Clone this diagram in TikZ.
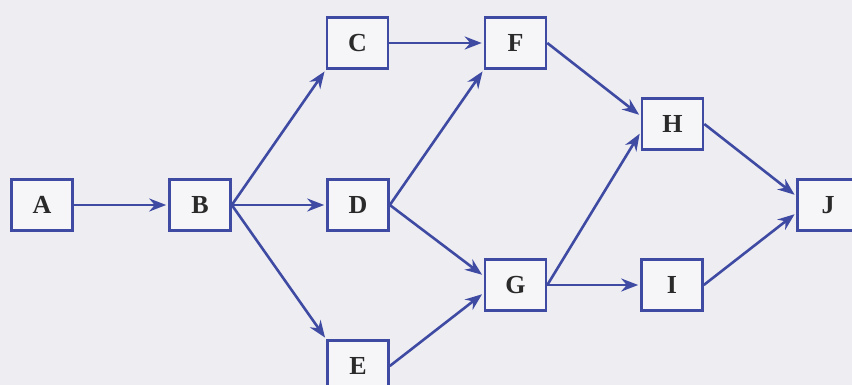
\documentclass[tikz,border=0pt]{standalone}
\usepackage{fontspec}
\setmainfont{Liberation Serif}
\usetikzlibrary{arrows.meta}
\definecolor{bg}{HTML}{EEEEF2}
\definecolor{boxfill}{HTML}{F6F6F9}
\definecolor{edgeblue}{HTML}{3F4AA3}
\definecolor{labelgray}{HTML}{2A2A2A}
\tikzset{
  actbox/.style={draw=edgeblue, fill=boxfill, line width=2.6pt, inner sep=0pt,
    minimum width=61pt, minimum height=51pt,
    font=\bfseries\fontsize{26}{26}\selectfont, text=labelgray},
  flow/.style={draw=edgeblue, line width=2.6pt,
    -{Stealth[length=17pt,width=13pt]}, shorten >=2pt}
}
\begin{document}
\begin{tikzpicture}[x=1pt,y=-1pt]
\useasboundingbox (0,0) rectangle (852,385);
\clip (0,0) rectangle (852,385);
\fill[bg] (0,0) rectangle (852,385);
\node[actbox] (A) at (42,205) {A};
\node[actbox] (B) at (200,205) {B};
\node[actbox] (C) at (357.5,43) {C};
\node[actbox] (D) at (358,205) {D};
\node[actbox] (E) at (358,366) {E};
\node[actbox] (F) at (515.5,43) {F};
\node[actbox] (G) at (515.5,285) {G};
\node[actbox] (H) at (672.5,124) {H};
\node[actbox] (I) at (672,285) {I};
\node[actbox] (J) at (828,205) {J};
\draw[flow] (A.east) -- (B.west);
\draw[flow] (B.east) -- (C.south west);
\draw[flow] (B.east) -- (D.west);
\draw[flow] (B.east) -- (E.north west);
\draw[flow] (C.east) -- (F.west);
\draw[flow] (D.east) -- (F.south west);
\draw[flow] (D.east) -- ([yshift=9pt]G.west);
\draw[flow] (E.east) -- ([yshift=-8pt]G.west);
\draw[flow] (F.east) -- ([yshift=8pt]H.west);
\draw[flow] (G.east) -- ([yshift=-8pt]H.west);
\draw[flow] (G.east) -- (I.west);
\draw[flow] (H.east) -- ([yshift=9pt]J.west);
\draw[flow] (I.east) -- ([yshift=-8pt]J.west);
\end{tikzpicture}
\end{document}
